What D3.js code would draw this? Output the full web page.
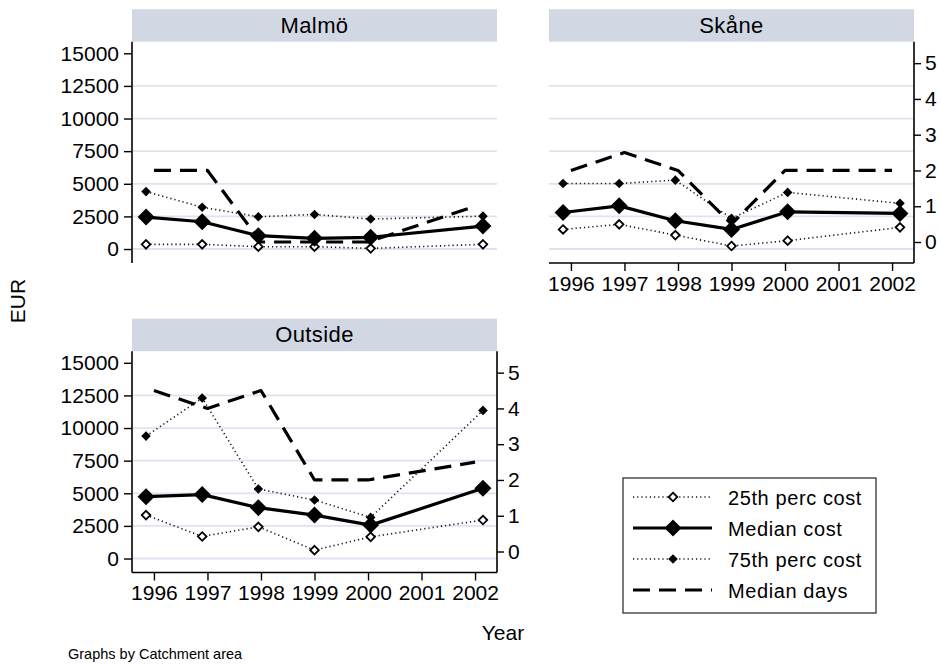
<!DOCTYPE html>
<html><head><meta charset="utf-8">
<script src="https://cdn.jsdelivr.net/npm/d3@7"></script>
<style>body{margin:0;background:#fff}svg text{font-family:"Liberation Sans",Arial,Helvetica,sans-serif;fill:#000}</style>
</head><body>
<script>
// ---- data ----
const years = [1996, 1997, 1998, 1999, 2000, 2002];
const yearTicks = [1996, 1997, 1998, 1999, 2000, 2001, 2002];
const costTicks = [0, 2500, 5000, 7500, 10000, 12500, 15000];
const dayTicks = [0, 1, 2, 3, 4, 5];
const areas = ["Malmö", "Skåne", "Outside"];
const seriesNames = ["25th perc cost", "Median cost", "75th perc cost", "Median days"];

const malmoP25 = [360, 360, 180, 180, 50, 360];
const malmoMedian = [2450, 2090, 1020, 820, 900, 1760];
const malmoP75 = [4400, 3200, 2470, 2650, 2300, 2520];
const malmoDays = [2, 2, 0, 0, 0, 1];

const skaneP25 = [1500, 1890, 1070, 230, 640, 1660];
const skaneMedian = [2800, 3310, 2170, 1500, 2850, 2730];
const skaneP75 = [5020, 5020, 5280, 2350, 4340, 3500];
const skaneDays = [2, 2.5, 2, 0.5, 2, 2];

const outsideP25 = [3330, 1690, 2430, 640, 1660, 2950];
const outsideMedian = [4740, 4900, 3900, 3330, 2560, 5380];
const outsideP75 = [9380, 12300, 5330, 4480, 3150, 11350];
const outsideDays = [4.5, 4, 4.5, 2, 2, 2.5];

const areaData = {
  "Malmö": [malmoP25, malmoMedian, malmoP75, malmoDays],
  "Skåne": [skaneP25, skaneMedian, skaneP75, skaneDays],
  "Outside": [outsideP25, outsideMedian, outsideP75, outsideDays]
};

// ---- layout ----
const W = 941, H = 668;
const pw = 365, ph = 221.3, barH = 32.5;
const layout = {
  "Malmö":   {x: 132, y: 41.7, left: true,  right: false, bottom: false},
  "Skåne":   {x: 549, y: 41.7, left: false, right: true,  bottom: true},
  "Outside": {x: 132, y: 351.2, left: true, right: true,  bottom: true}
};
const gridCol = "#dde3ef", barCol = "#d1d8e4";
const FONT = "Liberation Sans, Arial, sans-serif";

const svg = d3.select("body").append("svg").attr("width", W).attr("height", H);

const xTick = d3.scaleLinear().domain([1995.59, 2002.41]).range([0, pw]);
const xCost = d3.scaleLinear().domain([1995.75, 2002.25]).range([0, pw]);
const yCost = d3.scaleLinear().domain([-1071, 15888]).range([ph, 0]);
const yDays = d3.scaleLinear().domain([-0.587, 5.6]).range([ph, 0]);

const styles = [
  {stroke: "#111", width: 1.6, dash: "1.2,3", marker: "hollow", r: 4.3},
  {stroke: "#000", width: 3.2, dash: null, marker: "big", r: 8.5},
  {stroke: "#111", width: 1.6, dash: "1.2,3", marker: "small", r: 4.8},
  {stroke: "#000", width: 3.2, dash: "17,9", marker: null}
];

function diamond(g, cx, cy, st) {
  const r = st.r;
  const p = `M${cx},${cy - r}L${cx + r},${cy}L${cx},${cy + r}L${cx - r},${cy}Z`;
  if (st.marker === "hollow") {
    g.append("path").attr("d", p).attr("fill", "#fff").attr("stroke", "#000").attr("stroke-width", 1.8);
  } else {
    g.append("path").attr("d", p).attr("fill", "#000");
  }
}

function styleAxis(ax) {
  ax.select(".domain").attr("stroke-width", 1.6);
  ax.selectAll(".tick line").attr("stroke-width", 1.4);
  ax.selectAll("text").style("font-size", "21px").style("font-family", FONT);
}

areas.forEach(area => {
  const L = layout[area];
  const g = svg.append("g").attr("transform", `translate(${L.x},${L.y})`);
  g.append("rect").attr("x", 0).attr("y", -barH).attr("width", pw).attr("height", barH).attr("fill", barCol);
  g.append("text").attr("x", pw / 2).attr("y", -barH / 2 + 7.5).attr("text-anchor", "middle")
    .style("font-size", "22px").style("letter-spacing", "0.4px").text(area);
  costTicks.filter(t => t < 15000).forEach(t => {
    g.append("line").attr("x1", 0).attr("x2", pw).attr("y1", yCost(t)).attr("y2", yCost(t))
      .attr("stroke", gridCol).attr("stroke-width", 1.8);
  });
  if (L.left) {
    const ax = g.append("g").call(d3.axisLeft(yCost).tickValues(costTicks).tickSize(8).tickPadding(5).tickFormat(d3.format("d")));
    ax.select(".domain").attr("d", `M0,0V${ph}`);
    styleAxis(ax);
  }
  if (L.right) {
    const ax = g.append("g").attr("transform", `translate(${pw},0)`)
      .call(d3.axisRight(yDays).tickValues(dayTicks).tickSize(7).tickPadding(4).tickFormat(d3.format("d")));
    ax.select(".domain").attr("d", `M0,0V${ph}`);
    styleAxis(ax);
  }
  if (L.bottom) {
    const ax = g.append("g").attr("transform", `translate(0,${ph})`)
      .call(d3.axisBottom(xTick).tickValues(yearTicks).tickSize(8).tickPadding(5).tickFormat(d3.format("d")));
    ax.select(".domain").attr("d", `M0,0H${pw}`);
    styleAxis(ax);
  }
  const data = areaData[area];
  data.forEach((vals, i) => {
    const st = styles[i];
    const pts = years.map((yr, k) => i === 3 ? [xTick(yr), yDays(vals[k])] : [xCost(yr), yCost(vals[k])]);
    g.append("path").attr("d", d3.line()(pts)).attr("fill", "none")
      .attr("stroke", st.stroke).attr("stroke-width", st.width)
      .attr("stroke-dasharray", st.dash).attr("stroke-linejoin", "round");
    if (st.marker) pts.forEach(p => diamond(g, p[0], p[1], st));
  });
});

// legend
const lg = svg.append("g");
lg.append("rect").attr("x", 623).attr("y", 478).attr("width", 253).attr("height", 135)
  .attr("fill", "#fff").attr("stroke", "#333").attr("stroke-width", 1.3);
seriesNames.forEach((name, i) => {
  const cy = 497 + i * 31;
  const st = styles[i];
  lg.append("line").attr("x1", 633).attr("x2", 712).attr("y1", cy).attr("y2", cy)
    .attr("stroke", st.stroke).attr("stroke-width", st.width).attr("stroke-dasharray", st.dash);
  if (st.marker) diamond(lg, 673, cy, st);
  lg.append("text").attr("x", 728).attr("y", cy + 7.5).style("font-size", "20px").style("letter-spacing", "0.6px").text(name);
});

svg.append("text").attr("transform", "translate(25,301) rotate(-90)").attr("text-anchor", "middle")
  .style("font-size", "21px").text("EUR");
svg.append("text").attr("x", 503).attr("y", 640).attr("text-anchor", "middle").style("font-size", "21px").text("Year");
svg.append("text").attr("x", 68).attr("y", 659).style("font-size", "14.5px").text("Graphs by Catchment area");
</script>
</body></html>
